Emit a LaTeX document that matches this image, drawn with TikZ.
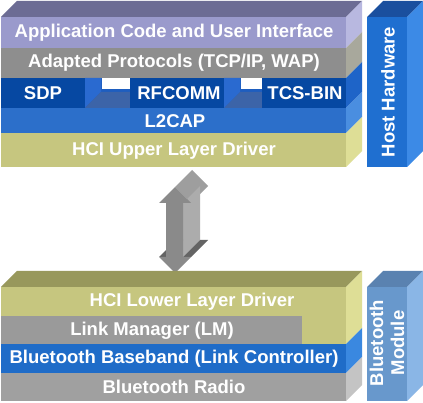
\documentclass[tikz,border=0pt]{standalone}
\usepackage{fontspec}
\setmainfont{Liberation Sans}
\begin{document}
\begin{tikzpicture}[x=1pt,y=-1pt,
  lbl/.style={text=white,font=\bfseries\fontsize{18.5}{21}\selectfont,inner sep=0pt},
  vlbl/.style={lbl,rotate=90,align=center,font=\bfseries\fontsize{18.5}{21}\selectfont}]
\useasboundingbox (0,0) rectangle (423,403);
\fill[white] (0,0) rectangle (423,403);
% colours
\definecolor{apptop}{RGB}{108,108,148}
\definecolor{appf}{RGB}{154,154,204}
\definecolor{apps}{RGB}{184,184,224}
\definecolor{adpf}{RGB}{142,142,142}
\definecolor{adps}{RGB}{168,168,156}
\definecolor{sdpf}{RGB}{6,72,162}
\definecolor{sdps}{RGB}{30,100,200}
\definecolor{gapside}{RGB}{42,106,208}
\definecolor{gapfloor}{RGB}{60,100,168}
\definecolor{gapback}{RGB}{30,94,192}
\definecolor{l2f}{RGB}{44,111,202}
\definecolor{l2s}{RGB}{74,142,224}
\definecolor{hcif}{RGB}{198,198,127}
\definecolor{hcis}{RGB}{222,222,150}
\definecolor{hcitop}{RGB}{152,152,92}
\definecolor{hostf}{RGB}{31,111,208}
\definecolor{hostt}{RGB}{26,79,158}
\definecolor{hosts}{RGB}{60,138,230}
\definecolor{lmf}{RGB}{154,154,154}
\definecolor{bbf}{RGB}{31,108,200}
\definecolor{bbs}{RGB}{58,136,224}
\definecolor{radf}{RGB}{160,160,160}
\definecolor{rads}{RGB}{196,196,196}
\definecolor{modf}{RGB}{104,152,204}
\definecolor{modt}{RGB}{90,130,176}
\definecolor{mods}{RGB}{138,182,230}
\definecolor{arrf}{RGB}{138,138,138}
\definecolor{arrs}{RGB}{172,172,172}
\definecolor{arrh}{RGB}{158,158,158}
\definecolor{arrd}{RGB}{100,100,100}
% ---------- top stack ----------
\fill[apptop] (1,17) -- (346,17) -- (362,1) -- (17,1) -- cycle;
\fill[appf] (1,17) rectangle (346,48);
\fill[apps] (346,17) -- (362,1) -- (362,32) -- (346,48) -- cycle;
\fill[adpf] (1,48) rectangle (346,78);
\fill[adps] (346,48) -- (362,32) -- (362,62) -- (346,78) -- cycle;
% SDP row gaps
\foreach \L/\R in {85/130,224/262}{
  \fill[gapback] (\L,78) rectangle (\R,108);
  \fill[gapside] (\L,78) -- (\L+16,78) -- (\L+16,92) -- (\L,108) -- cycle;
  \fill[gapfloor] (\L,108) -- (\R,108) -- (\R,92) -- (\L+16,92) -- cycle;
  \fill[white] (\L+17,78) rectangle (\R,89);
}
\fill[sdpf] (1,78) rectangle (85,108);
\fill[sdpf] (130,78) rectangle (224,108);
\fill[sdpf] (262,78) rectangle (346,108);
\fill[sdps] (346,78) -- (362,62) -- (362,92) -- (346,108) -- cycle;
\fill[l2f] (1,108) rectangle (346,133);
\fill[l2s] (346,108) -- (362,92) -- (362,117) -- (346,133) -- cycle;
\fill[hcif] (1,133) rectangle (346,167);
\fill[hcis] (346,133) -- (362,117) -- (362,151) -- (346,167) -- cycle;
% host hardware
\fill[hostt] (367,17) -- (407,17) -- (423,1) -- (383,1) -- cycle;
\fill[hostf] (367,17) rectangle (407,167);
\fill[hosts] (407,17) -- (423,1) -- (423,151) -- (407,167) -- cycle;
% ---------- arrow ----------
\fill[arrh] (175,187) -- (191,203) -- (208,186) -- (192,170) -- cycle;
\fill[arrs] (183,203) -- (183,257) -- (200,240) -- (200,186) -- cycle;
\fill[arrd] (183,257) -- (191,257) -- (208,240) -- (200,240) -- cycle;
\fill[arrd] (159,257) -- (166,257) -- (183,240) -- (176,240) -- cycle;
\fill[arrf] (175,187) -- (191,203) -- (183,203) -- (183,257) -- (191,257)
  -- (175,273) -- (159,257) -- (166,257) -- (166,203) -- (159,203) -- cycle;
% ---------- bottom stack ----------
\fill[hcitop] (1,287) -- (346,287) -- (362,271) -- (17,271) -- cycle;
\fill[hcif] (1,287) rectangle (346,344);
\fill[hcis] (346,287) -- (362,271) -- (362,328) -- (346,344) -- cycle;
\fill[lmf] (1,316) rectangle (302,344);
\fill[bbf] (1,344) rectangle (346,373);
\fill[bbs] (346,344) -- (362,328) -- (362,357) -- (346,373) -- cycle;
\fill[radf] (1,373) rectangle (346,401);
\fill[rads] (346,373) -- (362,357) -- (362,385) -- (346,401) -- cycle;
% bluetooth module
\fill[modt] (367,287) -- (407,287) -- (423,271) -- (383,271) -- cycle;
\fill[modf] (367,287) rectangle (407,401);
\fill[mods] (407,287) -- (423,271) -- (423,385) -- (407,401) -- cycle;
% ---------- labels ----------
\node[lbl] (app) at (174,33) {Application Code and User Interface};
\node[lbl] (adp) at (174,63) {Adapted Protocols (TCP/IP, WAP)};
\node[lbl] (sdp) at (43,93) {SDP};
\node[lbl] (rfc) at (179,93) {RFCOMM};
\node[lbl] (tcs) at (305,93) {TCS-BIN};
\node[lbl] (l2cap) at (175,121) {L2CAP};
\node[lbl] (hciu) at (174,151) {HCI Upper Layer Driver};
\node[vlbl] (host) at (388,92) {Host Hardware};
\node[lbl] (hcil) at (192,302) {HCI Lower Layer Driver};
\node[lbl] (lm) at (152,331) {Link Manager (LM)};
\node[lbl] (bb) at (174,359) {Bluetooth Baseband (Link Controller)};
\node[lbl] (rad) at (174,387) {Bluetooth Radio};
\node[vlbl] (mod) at (387,343) {Bluetooth\\Module};
\end{tikzpicture}
\end{document}
